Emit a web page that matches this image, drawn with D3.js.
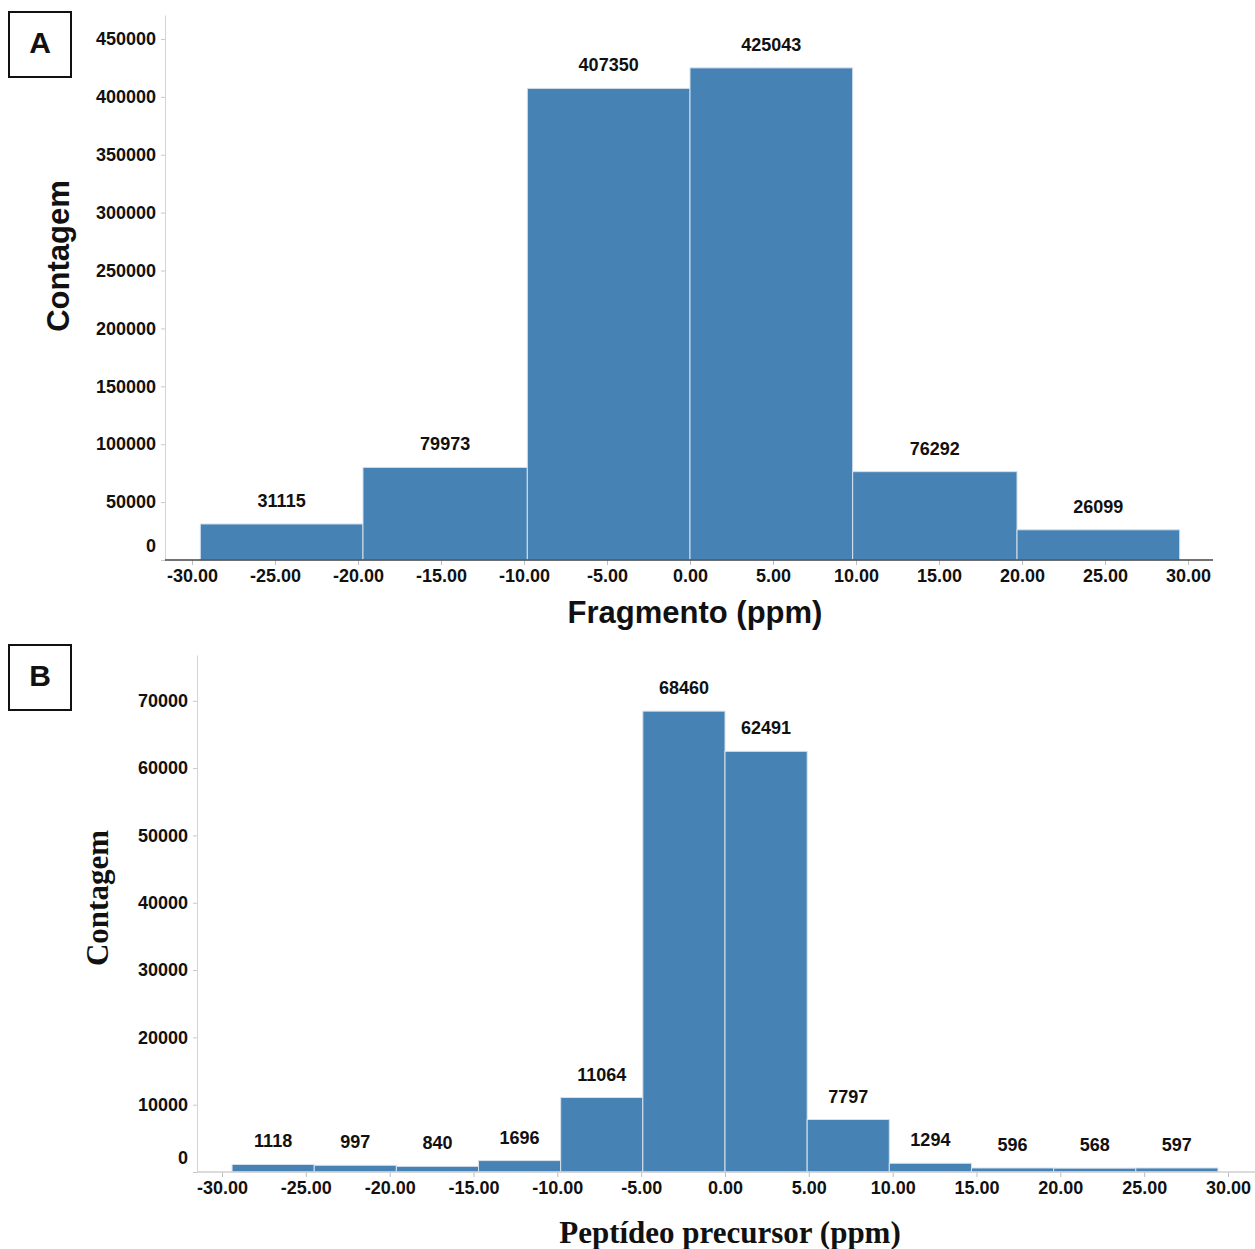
<!DOCTYPE html>
<html><head><meta charset="utf-8">
<script src="https://cdn.jsdelivr.net/npm/d3@7"></script>
<style>
html,body{margin:0;padding:0;background:#fff;}
svg{display:block;}
</style></head>
<body>
<svg id="chart" width="1255" height="1249"></svg>
<script>
// ---- data ----
const binEdgesA = [-29.5, -19.7, -9.8, 0, 9.8, 19.7, 29.5];
const countsA = [31115, 79973, 407350, 425043, 76292, 26099];
const binEdgesB = [-29.4, -24.5, -19.6, -14.7, -9.8, -4.9, 0, 4.9, 9.8, 14.7, 19.6, 24.5, 29.4];
const countsB = [1118, 997, 840, 1696, 11064, 68460, 62491, 7797, 1294, 596, 568, 597];
const xTicks = [-30, -25, -20, -15, -10, -5, 0, 5, 10, 15, 20, 25, 30];
const yTicksA = [0, 50000, 100000, 150000, 200000, 250000, 300000, 350000, 400000, 450000];
const yTicksB = [0, 10000, 20000, 30000, 40000, 50000, 60000, 70000];
const titleA = {x: "Fragmento (ppm)", y: "Contagem", panel: "A"};
const titleB = {x: "Peptídeo precursor (ppm)", y: "Contagem", panel: "B"};

const loc = d3.formatLocale({decimal: ".", thousands: "", grouping: [3], currency: ["", ""], minus: "-"});
const fx = loc.format(".2f");
const fy = loc.format("d");

const svg = d3.select("#chart");
const BAR = "#4682b4";
const SANS = "'Liberation Sans', Arial, sans-serif";
const SERIF = "'Liberation Serif', 'Times New Roman', serif";
const FS = 18;

function panel(cfg) {
  const g = svg.append("g");
  const x = d3.scaleLinear().domain([-30, 30]).range(cfg.xRange);
  const y = d3.scaleLinear().domain([0, cfg.yMax]).range([cfg.y0, cfg.yTop]);

  const bins = cfg.counts.map((c, i) => ({x0: cfg.edges[i], x1: cfg.edges[i + 1], c}));

  // bars
  g.selectAll("rect.bar").data(bins).join("rect")
    .attr("class", "bar")
    .attr("x", d => x(d.x0))
    .attr("width", d => x(d.x1) - x(d.x0))
    .attr("y", d => y(d.c))
    .attr("height", d => y(0) - y(d.c))
    .attr("fill", BAR)
    .attr("stroke", "#d6e2ee")
    .attr("stroke-width", 1);

  // value labels
  g.selectAll("text.val").data(bins).join("text")
    .attr("class", "val")
    .attr("x", d => (x(d.x0) + x(d.x1)) / 2)
    .attr("y", d => y(d.c) - 17)
    .attr("text-anchor", "middle")
    .attr("font-family", SANS).attr("font-weight", "bold").attr("font-size", FS)
    .attr("fill", "#111")
    .text(d => d.c);

  // y axis
  const yAx = g.append("g").attr("transform", `translate(${cfg.yAxisX},0)`)
    .call(d3.axisLeft(y).tickValues(cfg.yTicks).tickFormat(fy).tickSize(4).tickSizeOuter(0).tickPadding(5));
  yAx.select(".domain").attr("stroke", "#d4d4d4");
  yAx.selectAll(".tick line").attr("stroke", "#c8c8c8");
  yAx.selectAll(".tick text")
    .attr("font-family", SANS).attr("font-weight", "bold").attr("font-size", FS).attr("fill", "#111")
    .attr("dy", d => d === 0 ? "-0.5em" : "0.32em");

  // x axis
  const xAx = g.append("g").attr("transform", `translate(0,${cfg.y0})`)
    .call(d3.axisBottom(x).tickValues(xTicks).tickFormat(fx).tickSize(5).tickSizeOuter(0).tickPadding(4));
  xAx.select(".domain").remove();
  xAx.selectAll(".tick line").attr("stroke", "#bdbdbd");
  xAx.selectAll(".tick text")
    .attr("font-family", SANS).attr("font-weight", "bold").attr("font-size", FS).attr("fill", "#111");
  g.append("line")
    .attr("x1", cfg.yAxisX).attr("x2", cfg.xAxisEnd)
    .attr("y1", cfg.y0).attr("y2", cfg.y0)
    .attr("stroke", cfg.xAxisColor).attr("stroke-width", cfg.xAxisWidth);

  // axis titles
  g.append("text")
    .attr("x", cfg.xTitle[0]).attr("y", cfg.xTitle[1])
    .attr("text-anchor", "middle")
    .attr("font-family", cfg.font).attr("font-weight", "bold").attr("font-size", cfg.titleSize)
    .attr("fill", "#111")
    .text(cfg.titles.x);
  g.append("text")
    .attr("transform", `translate(${cfg.yTitle[0]},${cfg.yTitle[1]}) rotate(-90)`)
    .attr("text-anchor", "middle")
    .attr("font-family", cfg.font).attr("font-weight", "bold").attr("font-size", cfg.titleSize)
    .attr("fill", "#111")
    .text(cfg.titles.y);

  // panel label
  g.append("rect")
    .attr("x", cfg.box[0]).attr("y", cfg.box[1]).attr("width", 62).attr("height", 65)
    .attr("fill", "#fff").attr("stroke", "#111").attr("stroke-width", 2);
  g.append("text")
    .attr("x", cfg.box[0] + 31).attr("y", cfg.box[1] + 41)
    .attr("text-anchor", "middle")
    .attr("font-family", SANS).attr("font-weight", "bold").attr("font-size", 30)
    .attr("fill", "#111")
    .text(cfg.titles.panel);
}

panel({
  edges: binEdgesA, counts: countsA, yTicks: yTicksA,
  xRange: [192, 1188], yMax: 470700, y0: 560, yTop: 15,
  yAxisX: 165, xAxisEnd: 1213, xAxisColor: "#444", xAxisWidth: 1.5,
  xTitle: [695, 623], yTitle: [69, 256], titleSize: 31, font: SANS,
  titles: titleA, box: [9, 12]
});

panel({
  edges: binEdgesB, counts: countsB, yTicks: yTicksB,
  xRange: [222, 1228], yMax: 76800, y0: 1172, yTop: 655,
  yAxisX: 197, xAxisEnd: 1255, xAxisColor: "#cfcfcf", xAxisWidth: 1.5,
  xTitle: [730, 1243], yTitle: [108, 898], titleSize: 31, font: SERIF,
  titles: titleB, box: [9, 645]
});
</script>
</body></html>
